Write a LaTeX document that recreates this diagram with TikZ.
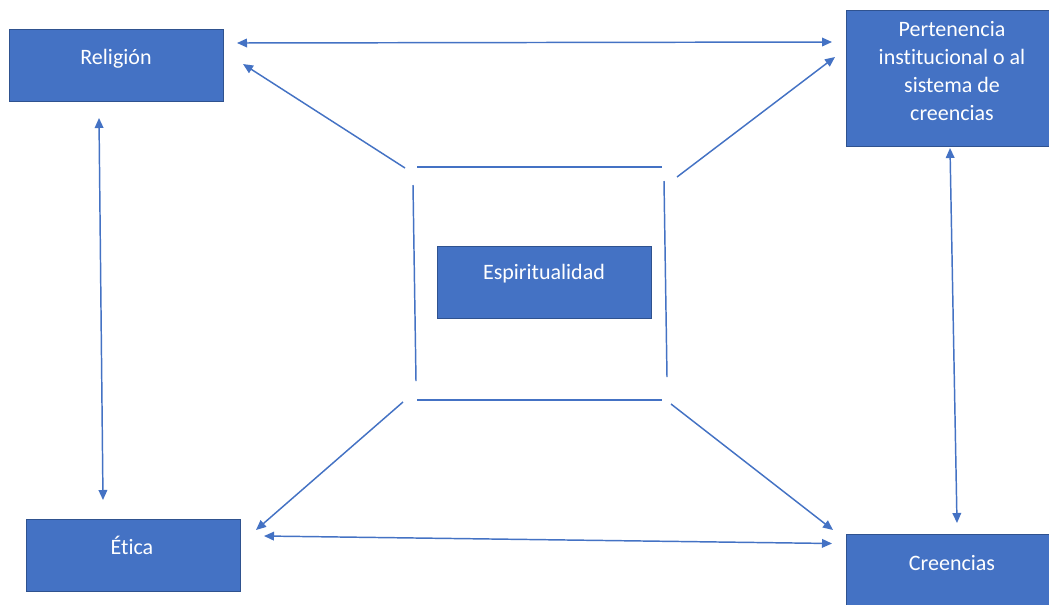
\documentclass[tikz,border=0pt]{standalone}
\usepackage{fontspec}
\setmainfont{Carlito}[Ligatures=NoCommon]
\usetikzlibrary{arrows.meta}
\definecolor{boxblue}{HTML}{4472C4}
\definecolor{boxedge}{HTML}{2F528F}
\definecolor{lineblue}{HTML}{4472C4}
\begin{document}
\begin{tikzpicture}[x=0.75pt,y=-0.75pt,
  box/.style={draw=boxedge,line width=0.75pt,fill=boxblue,inner sep=0pt},
  lbl/.style={text=white,font=\fontsize{16.5pt}{20.8pt}\selectfont,inner sep=0pt,align=center},
  conn/.style={draw=lineblue,line width=1.1pt},
  arr/.style={conn,-{Triangle[length=7.5pt,width=6.5pt]}},
  darr/.style={conn,{Triangle[length=7.5pt,width=6.5pt]}-{Triangle[length=7.5pt,width=6.5pt]}}]
\useasboundingbox[fill=white] (0,0) rectangle (1049,604);
% boxes
\path[box] (9,29) rectangle (223,101);
\node[lbl,anchor=base] (religion) at (116,64.3) {Religión};
\path[box] (846,10) rectangle (1060,146);
\node[lbl,anchor=base] (pertenencia) at (952,120) {Pertenencia\\institucional o al\\sistema de\\creencias};
\path[box] (437,246) rectangle (651,318);
\node[lbl,anchor=base] (espiritualidad) at (544,279.3) {Espiritualidad};
\path[box] (26,519) rectangle (240,591);
\node[lbl,anchor=base] (etica) at (132,554) {Ética};
\path[box] (846,534) rectangle (1060,610);
\node[lbl,anchor=base] (creencias) at (952,570) {Creencias};
% central square
\coordinate (t1) at (417,167); \coordinate (t2) at (662,167);
\coordinate (b1) at (417,400); \coordinate (b2) at (662,400);
\coordinate (l1) at (413,185); \coordinate (l2) at (416,381);
\coordinate (r1) at (664,181); \coordinate (r2) at (667,377);
\draw[conn] (t1) -- (t2);
\draw[conn] (b1) -- (b2);
\draw[conn] (l1) -- (l2);
\draw[conn] (r1) -- (r2);
% diagonal arrows
\coordinate (d1s) at (405,168); \coordinate (d1e) at (243,64);
\coordinate (d2s) at (677,177); \coordinate (d2e) at (835,57);
\coordinate (d3s) at (403,402); \coordinate (d3e) at (256,530);
\coordinate (d4s) at (671,404); \coordinate (d4e) at (833,530);
\draw[arr] (d1s) -- (d1e);
\draw[arr] (d2s) -- (d2e);
\draw[arr] (d3s) -- (d3e);
\draw[arr] (d4s) -- (d4e);
% double arrows
\coordinate (rp1) at (237,43); \coordinate (rp2) at (832,42);
\coordinate (re1) at (99,118); \coordinate (re2) at (103,500);
\coordinate (pc1) at (950,148); \coordinate (pc2) at (957,523);
\coordinate (ec1) at (264,536); \coordinate (ec2) at (832,543.5);
\draw[darr] (rp1) -- (rp2);
\draw[darr] (re1) -- (re2);
\draw[darr] (pc1) -- (pc2);
\draw[darr] (ec1) -- (ec2);
\end{tikzpicture}
\end{document}
